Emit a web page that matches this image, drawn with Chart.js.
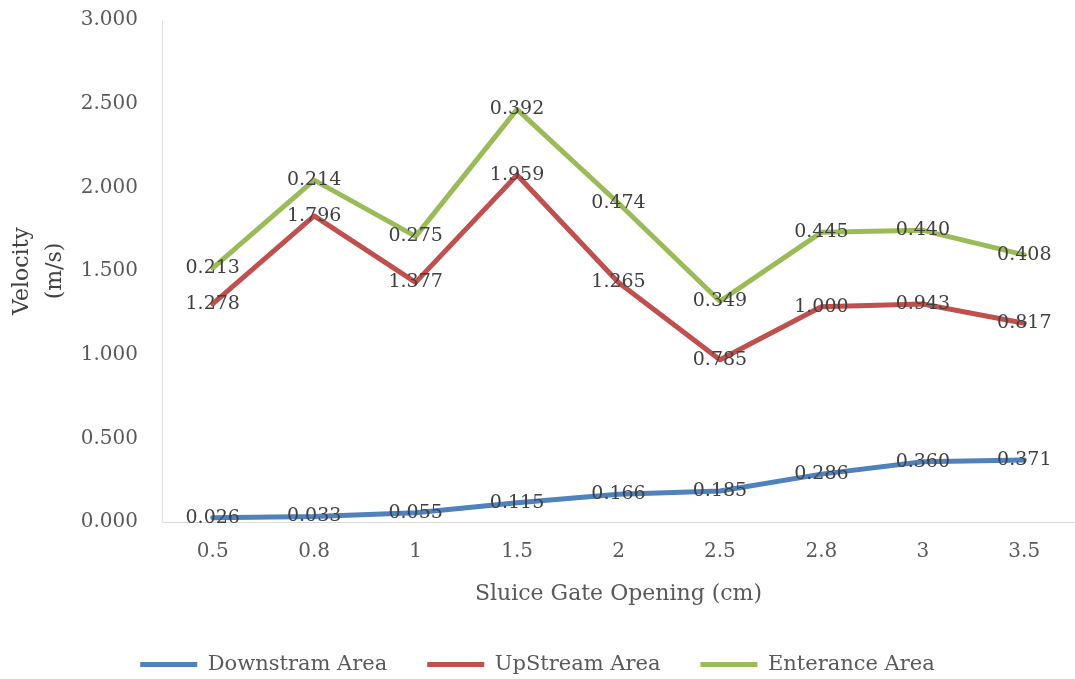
<!DOCTYPE html>
<html>
<head>
<meta charset="utf-8">
<script src="https://cdn.jsdelivr.net/npm/chart.js@4/dist/chart.umd.min.js"></script>
<style>
  html, body { margin: 0; padding: 0; background: #ffffff; }
  #wrap { width: 1075px; height: 679px; }
</style>
</head>
<body>
<div id="wrap"><canvas id="c" width="1075" height="679"></canvas></div>
<script>
// Sluice gate openings (cm)
const openings = ['0.5', '0.8', '1', '1.5', '2', '2.5', '2.8', '3', '3.5'];

// Velocity per zone (m/s); series are stacked on the chart
const downstream = [0.026, 0.033, 0.055, 0.115, 0.166, 0.185, 0.286, 0.360, 0.371];
const upstream   = [1.278, 1.796, 1.377, 1.959, 1.265, 0.785, 1.000, 0.943, 0.817];
const entrance   = [0.213, 0.214, 0.275, 0.392, 0.474, 0.349, 0.445, 0.440, 0.408];

const seriesNames = ['Downstram Area', 'UpStream Area', 'Enterance Area'];
const seriesColors = ['#4F81BD', '#C0504D', '#9BBB59'];

const FONT = "'DejaVu Serif', serif";

// Writes each point's own value centred on the point
const pointValueLabels = {
  id: 'pointValueLabels',
  afterDatasetsDraw(chart) {
    const ctx = chart.ctx;
    ctx.save();
    ctx.font = '19px ' + FONT;
    ctx.fillStyle = '#404040';
    ctx.textAlign = 'center';
    ctx.textBaseline = 'middle';
    chart.data.datasets.forEach((ds, i) => {
      const meta = chart.getDatasetMeta(i);
      meta.data.forEach((pt, j) => {
        ctx.fillText(ds.data[j].toFixed(3), pt.x, pt.y);
      });
    });
    ctx.restore();
  }
};

const makeSeries = (label, data, color) => ({
  label, data,
  borderColor: color,
  backgroundColor: color,
  borderWidth: 5,
  borderCapStyle: 'round',
  borderJoinStyle: 'round',
  pointRadius: 0,
  pointHoverRadius: 0,
  tension: 0,
  fill: false
});

new Chart(document.getElementById('c'), {
  type: 'line',
  data: {
    labels: openings,
    datasets: [
      makeSeries(seriesNames[0], downstream, seriesColors[0]),
      makeSeries(seriesNames[1], upstream, seriesColors[1]),
      makeSeries(seriesNames[2], entrance, seriesColors[2])
    ]
  },
  options: {
    responsive: false,
    devicePixelRatio: 1,
    animation: false,
    layout: { padding: { top: 20, left: 0, right: 0, bottom: -6 } },
    plugins: {
      legend: {
        position: 'bottom',
        labels: {
          usePointStyle: true,
          pointStyle: 'line',
          pointStyleWidth: 57,
          padding: 40,
          color: '#595959',
          font: { family: FONT, size: 21 }
        }
      },
      tooltip: { enabled: false }
    },
    scales: {
      x: {
        offset: true,
        grid: { display: false, drawTicks: false, offset: true },
        border: { display: true, color: '#d9d9d9', width: 1 },
        ticks: { color: '#595959', font: { family: FONT, size: 20 }, padding: 18 },
        title: {
          display: true,
          text: 'Sluice Gate Opening (cm)',
          color: '#595959',
          font: { family: FONT, size: 22 },
          padding: { top: 0, bottom: 7 }
        },
        afterFit(scale) { scale.height = 92; }
      },
      y: {
        stacked: true,
        min: 0,
        max: 3,
        grid: {
          display: true,
          drawOnChartArea: false,
          drawTicks: true,
          tickLength: 16,
          tickColor: 'rgba(0,0,0,0)',
          color: 'rgba(0,0,0,0)'
        },
        border: { display: true, color: '#e3e3e3', width: 1 },
        ticks: {
          stepSize: 0.5,
          padding: 8,
          color: '#595959',
          font: { family: FONT, size: 20 },
          callback: (v) => Number(v).toFixed(3)
        },
        title: {
          display: true,
          text: ['Velocity', '(m/s)'],
          color: '#404040',
          font: { family: FONT, size: 22, lineHeight: 1.5 },
          padding: { top: 6, bottom: 0 }
        },
        afterFit(scale) { scale.width = 162; }
      }
    }
  },
  plugins: [pointValueLabels]
});
</script>
</body>
</html>
